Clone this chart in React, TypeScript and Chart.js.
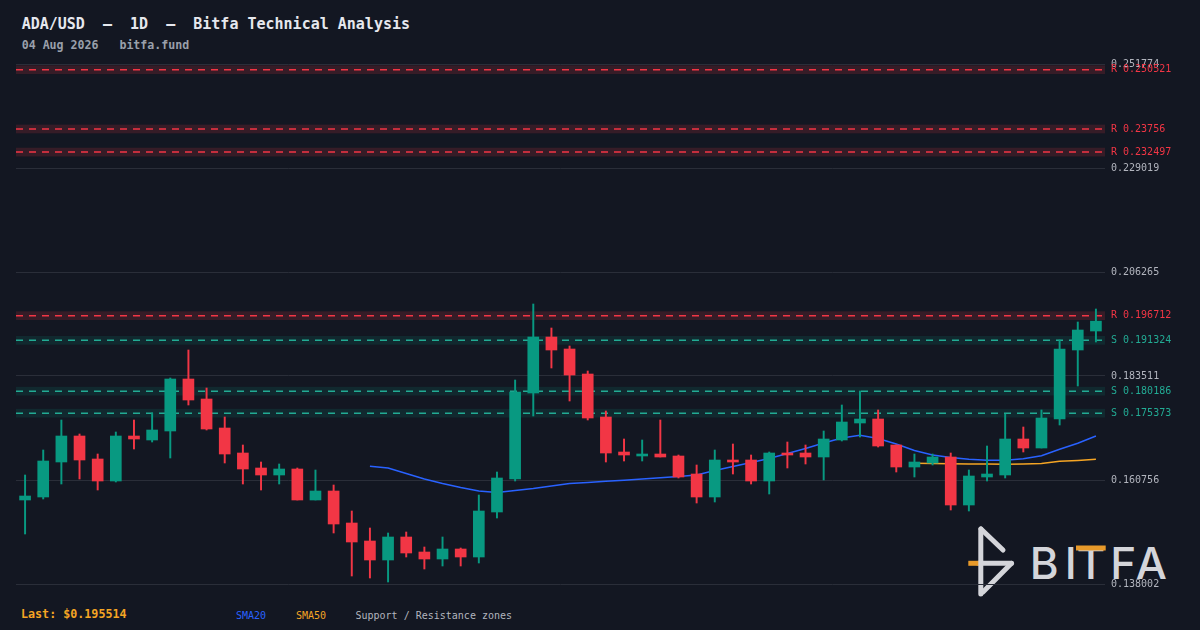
import React, { useEffect, useRef } from 'react';
import { Chart, registerables } from 'chart.js';

Chart.register(...registerables);

const FONT = '"DejaVu Sans Mono", monospace';

const dates = [
  'Jun 06', 'Jun 07', 'Jun 08', 'Jun 09', 'Jun 10', 'Jun 11', 'Jun 12', 'Jun 13', 'Jun 14', 'Jun 15',
  'Jun 16', 'Jun 17', 'Jun 18', 'Jun 19', 'Jun 20', 'Jun 21', 'Jun 22', 'Jun 23', 'Jun 24', 'Jun 25',
  'Jun 26', 'Jun 27', 'Jun 28', 'Jun 29', 'Jun 30', 'Jul 01', 'Jul 02', 'Jul 03', 'Jul 04', 'Jul 05',
  'Jul 06', 'Jul 07', 'Jul 08', 'Jul 09', 'Jul 10', 'Jul 11', 'Jul 12', 'Jul 13', 'Jul 14', 'Jul 15',
  'Jul 16', 'Jul 17', 'Jul 18', 'Jul 19', 'Jul 20', 'Jul 21', 'Jul 22', 'Jul 23', 'Jul 24', 'Jul 25',
  'Jul 26', 'Jul 27', 'Jul 28', 'Jul 29', 'Jul 30', 'Jul 31', 'Aug 01', 'Aug 02', 'Aug 03', 'Aug 04',
];

const opens = [
  0.156380, 0.157037, 0.164694, 0.170383, 0.165351, 0.160537, 0.170383, 0.169508, 0.171477, 0.182854,
  0.178478, 0.172133, 0.166663, 0.163382, 0.161850, 0.163163, 0.156380, 0.158349, 0.151348, 0.147410,
  0.143253, 0.148285, 0.145003, 0.143472, 0.145660, 0.143909, 0.153755, 0.160975, 0.179791, 0.192043,
  0.189418, 0.183948, 0.174540, 0.166882, 0.166007, 0.166445, 0.166007, 0.162069, 0.157037, 0.165132,
  0.165132, 0.160537, 0.166663, 0.166663, 0.165788, 0.169508, 0.173227, 0.174102, 0.168414, 0.163600,
  0.164476, 0.165788, 0.155286, 0.161413, 0.161850, 0.169727, 0.167757, 0.174102, 0.189199, 0.193356,
];

const highs = [
  0.161850, 0.167320, 0.173884, 0.170821, 0.166445, 0.171258, 0.173884, 0.175415, 0.183073, 0.189199,
  0.180885, 0.174540, 0.168414, 0.164694, 0.164257, 0.163382, 0.162944, 0.159662, 0.153974, 0.150254,
  0.149160, 0.149379, 0.146097, 0.148285, 0.145878, 0.157474, 0.162506, 0.182635, 0.199263, 0.194012,
  0.190074, 0.184604, 0.175853, 0.169727, 0.169508, 0.173884, 0.166226, 0.164038, 0.167320, 0.168633,
  0.166226, 0.166882, 0.169070, 0.168414, 0.171477, 0.177165, 0.180228, 0.176071, 0.168414, 0.166445,
  0.166445, 0.166663, 0.162944, 0.168195, 0.175196, 0.172352, 0.176071, 0.191387, 0.195325, 0.198169,
];

const lows = [
  0.148942, 0.156599, 0.159881, 0.160975, 0.158568, 0.160319, 0.167539, 0.169070, 0.165570, 0.177165,
  0.171696, 0.164476, 0.159881, 0.158568, 0.159881, 0.156380, 0.156380, 0.149160, 0.139752, 0.139315,
  0.138440, 0.143909, 0.141284, 0.141940, 0.141940, 0.142597, 0.152442, 0.160537, 0.174759, 0.185261,
  0.178041, 0.173884, 0.164694, 0.164913, 0.164913, 0.165788, 0.161194, 0.155724, 0.155943, 0.162069,
  0.159881, 0.157693, 0.163382, 0.164257, 0.160756, 0.169289, 0.170164, 0.167976, 0.162506, 0.161413,
  0.164038, 0.154192, 0.153974, 0.160537, 0.161194, 0.166882, 0.167757, 0.172790, 0.181322, 0.190949,
];

const closes = [
  0.157256, 0.164913, 0.170383, 0.165132, 0.160537, 0.170383, 0.169727, 0.171696, 0.182854, 0.178259,
  0.171914, 0.166445, 0.163163, 0.161850, 0.163163, 0.156380, 0.158349, 0.151129, 0.147191, 0.143253,
  0.148285, 0.144784, 0.143472, 0.145660, 0.143909, 0.153974, 0.161194, 0.180010, 0.192043, 0.189199,
  0.183729, 0.174321, 0.166663, 0.166226, 0.166445, 0.165788, 0.161413, 0.157037, 0.165132, 0.164694,
  0.160537, 0.166663, 0.166226, 0.165788, 0.169727, 0.173446, 0.174102, 0.168195, 0.163600, 0.164694,
  0.165788, 0.155286, 0.161631, 0.162069, 0.169727, 0.167757, 0.174321, 0.189418, 0.193575, 0.195514,
];

const sma20 = [
  null, null, null, null, null, null, null, null, null, null,
  null, null, null, null, null, null, null, null, null, 0.163754,
  0.163382, 0.162178, 0.160975, 0.159990, 0.159115, 0.158349, 0.158021, 0.158459, 0.158896, 0.159443,
  0.159990, 0.160209, 0.160472, 0.160691, 0.160975, 0.161237, 0.161522, 0.161850, 0.162835, 0.163710,
  0.164585, 0.165460, 0.166554, 0.167648, 0.168851, 0.169945, 0.170536, 0.169836, 0.168633, 0.167210,
  0.166226, 0.165679, 0.165285, 0.165088, 0.165088, 0.165395, 0.166073, 0.167473, 0.168786, 0.170383,
];

const sma50 = [
  null, null, null, null, null, null, null, null, null, null,
  null, null, null, null, null, null, null, null, null, null,
  null, null, null, null, null, null, null, null, null, null,
  null, null, null, null, null, null, null, null, null, null,
  null, null, null, null, null, null, null, null, null, 0.164410,
  0.164366, 0.164301, 0.164257, 0.164235, 0.164213, 0.164279, 0.164388, 0.164848, 0.165045, 0.165285,
];

const resistanceLevels = [0.250521, 0.23756, 0.232497, 0.196712];
const supportLevels = [0.191324, 0.180186, 0.175373];
const yTicks = [0.138002, 0.160756, 0.183511, 0.206265, 0.229019, 0.251774];
const yMin = 0.138002;
const yMax = 0.251774;
const zoneHalf = 0.00095;
const lastPrice = 0.195514;

const UP = '#089981';
const DOWN = '#f23645';
const RES_LINE = '#f23645';
const SUP_LINE = '#22ab94';

const zonePlugin = {
  id: 'srZones',
  beforeDatasetsDraw(chart: any) {
    const { ctx, chartArea: a, scales } = chart;
    const y = scales.y;
    ctx.save();
    ctx.beginPath();
    ctx.rect(a.left, a.top, a.right - a.left, a.bottom - a.top);
    ctx.clip();
    const draw = (lv: number, fill: string, stroke: string) => {
      const y1 = y.getPixelForValue(lv + zoneHalf);
      const y2 = y.getPixelForValue(lv - zoneHalf);
      ctx.fillStyle = fill;
      ctx.fillRect(a.left, y1, a.right - a.left, y2 - y1);
      const yc = y.getPixelForValue(lv);
      ctx.strokeStyle = stroke;
      ctx.lineWidth = 1.5;
      ctx.setLineDash([7, 6]);
      ctx.beginPath();
      ctx.moveTo(a.left, yc);
      ctx.lineTo(a.right, yc);
      ctx.stroke();
    };
    resistanceLevels.forEach((lv) => draw(lv, 'rgba(242,54,69,0.16)', RES_LINE));
    supportLevels.forEach((lv) => draw(lv, 'rgba(8,153,129,0.14)', SUP_LINE));
    ctx.restore();
  },
  afterDraw(chart: any) {
    const { ctx, chartArea: a, scales } = chart;
    const y = scales.y;
    ctx.save();
    ctx.font = `10px ${FONT}`;
    ctx.textBaseline = 'middle';
    ctx.textAlign = 'left';
    resistanceLevels.forEach((lv) => {
      ctx.fillStyle = RES_LINE;
      ctx.fillText('R ' + String(lv), a.right + 6, y.getPixelForValue(lv));
    });
    supportLevels.forEach((lv) => {
      ctx.fillStyle = SUP_LINE;
      ctx.fillText('S ' + String(lv), a.right + 6, y.getPixelForValue(lv));
    });
    ctx.restore();
  },
};

export default function App() {
  const ref = useRef<HTMLCanvasElement | null>(null);

  useEffect(() => {
    if (!ref.current) return;
    const colors = opens.map((o, i) => (closes[i] >= o ? UP : DOWN));
    const bodies = opens.map((o, i) => [o, closes[i]]);
    const wicks = lows.map((l, i) => [l, highs[i]]);
    const chart = new Chart(ref.current, {
      type: 'bar',
      data: {
        labels: dates,
        datasets: [
          {
            type: 'line',
            label: 'SMA50',
            data: sma50 as any,
            borderColor: '#f5a524',
            borderWidth: 1.5,
            pointRadius: 0,
            tension: 0,
            order: 3,
          } as any,
          {
            type: 'line',
            label: 'SMA20',
            data: sma20 as any,
            borderColor: '#2962ff',
            borderWidth: 1.5,
            pointRadius: 0,
            tension: 0,
            order: 2,
          } as any,
          {
            label: 'wick',
            data: wicks as any,
            backgroundColor: colors,
            barThickness: 1.3,
            grouped: false,
            order: 1,
          } as any,
          {
            label: 'body',
            data: bodies as any,
            backgroundColor: colors,
            barThickness: 11,
            grouped: false,
            minBarLength: 1.5,
            order: 0,
          } as any,
        ],
      },
      options: {
        animation: false,
        responsive: false,
        maintainAspectRatio: false,
        layout: { padding: { left: 16, top: 64, bottom: 46, right: 0 } },
        plugins: {
          legend: { display: false },
          tooltip: { enabled: false },
          title: { display: false },
        },
        scales: {
          x: { display: false, offset: true, grid: { display: false } },
          y: {
            position: 'right',
            min: yMin,
            max: yMax,
            afterBuildTicks: (s: any) => {
              s.ticks = yTicks.map((v) => ({ value: v }));
            },
            afterFit: (s: any) => {
              s.width = 95;
            },
            grid: { color: '#2a2e39', drawTicks: false, lineWidth: 1 },
            border: { display: false },
            ticks: {
              color: '#b2b5be',
              font: { family: FONT, size: 10 },
              padding: 6,
              callback: (v: any) => Number(v).toFixed(6),
            },
          },
        },
      } as any,
      plugins: [zonePlugin],
    });
    return () => chart.destroy();
  }, []);

  const logoGray = '#d4d5da';
  const logoOrange = '#e89a2a';

  return (
    <div
      style={{
        position: 'fixed',
        left: 0,
        top: 0,
        width: 1200,
        height: 630,
        background: '#131722',
        overflow: 'hidden',
      }}
    >
      <svg
        width={1200}
        height={630}
        style={{ position: 'absolute', left: 0, top: 0 }}
      >
        <text
          x={21.7}
          y={29.3}
          fill="#e6e8ee"
          fontFamily={FONT}
          fontSize={15}
          fontWeight="bold"
          style={{ whiteSpace: 'pre' }}
        >
          {'ADA/USD  –  1D  –  Bitfa Technical Analysis'}
        </text>
        <text
          x={21.7}
          y={49}
          fill="#9aa0ab"
          fontFamily={FONT}
          fontSize={11.6}
          fontWeight="bold"
          style={{ whiteSpace: 'pre' }}
        >
          {'04 Aug 2026   bitfa.fund'}
        </text>
        <text
          x={21}
          y={617.5}
          fill="#f5a524"
          fontFamily={FONT}
          fontSize={11.7}
          fontWeight="bold"
          style={{ whiteSpace: 'pre' }}
        >
          {'Last: $' + lastPrice.toFixed(6)}
        </text>
        <text x={236} y={619} fill="#2962ff" fontFamily={FONT} fontSize={10}>
          SMA20
        </text>
        <text x={296} y={619} fill="#f5a524" fontFamily={FONT} fontSize={10}>
          SMA50
        </text>
        <text
          x={355.5}
          y={619}
          fill="#b2b5be"
          fontFamily={FONT}
          fontSize={10}
          style={{ whiteSpace: 'pre' }}
        >
          {'Support / Resistance zones'}
        </text>
        <g>
          <line x1={980.8} y1={529} x2={980.8} y2={594} stroke={logoGray} strokeWidth={5} strokeLinecap="round" />
          <line x1={981} y1={529} x2={1003} y2={550} stroke={logoGray} strokeWidth={5} strokeLinecap="round" />
          <line x1={978.5} y1={563.3} x2={1011.5} y2={563.3} stroke={logoGray} strokeWidth={5} strokeLinecap="round" />
          <line x1={1011.5} y1={563.3} x2={983} y2={592} stroke={logoGray} strokeWidth={5} strokeLinecap="round" />
          <line x1={968.3} y1={563.3} x2={978.3} y2={563.3} stroke={logoOrange} strokeWidth={5} />
          <text x={1044.2} y={579} fill={logoGray} fontFamily="Inter, Lato, sans-serif" fontSize={44} fontWeight={500} textAnchor="middle">B</text>
          <text x={1070.8} y={579} fill={logoGray} fontFamily="Inter, Lato, sans-serif" fontSize={44} fontWeight={500} textAnchor="middle">I</text>
          <text x={1090.8} y={579} fill={logoGray} fontFamily="Inter, Lato, sans-serif" fontSize={44} fontWeight={500} textAnchor="middle">T</text>
          <text x={1123.3} y={579} fill={logoGray} fontFamily="Inter, Lato, sans-serif" fontSize={44} fontWeight={500} textAnchor="middle">F</text>
          <text x={1151.3} y={579} fill={logoGray} fontFamily="Inter, Lato, sans-serif" fontSize={44} fontWeight={500} textAnchor="middle">A</text>
          <rect x={1076} y={545.5} width={29.7} height={5} fill={logoOrange} />
        </g>
      </svg>
      <canvas
        ref={ref}
        width={1200}
        height={630}
        style={{ position: 'absolute', left: 0, top: 0, width: 1200, height: 630 }}
      />
    </div>
  );
}
